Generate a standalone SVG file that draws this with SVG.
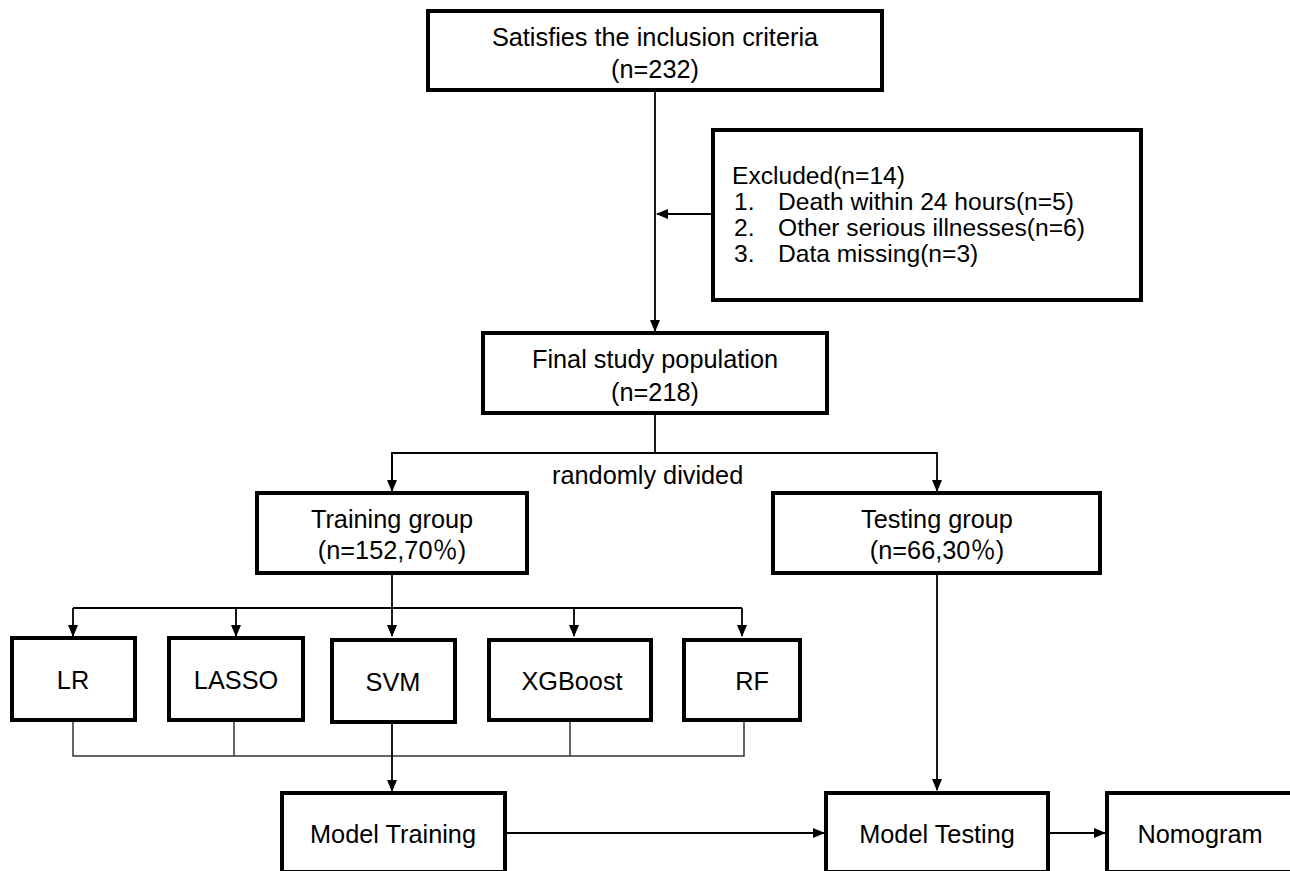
<svg xmlns="http://www.w3.org/2000/svg" width="1290" height="871" viewBox="0 0 1290 871">
<style>
.box{fill:#fff;stroke:#000;stroke-width:4}
.t{font-family:"Liberation Sans","Noto Sans CJK SC",sans-serif;font-size:25.3px;fill:#000}
.ex{font-size:24.6px}
.c{text-anchor:middle}
.ln{fill:none;stroke:#000;stroke-width:1.8}
.thin{fill:none;stroke:#333;stroke-width:1.5}
</style>
<defs>
<marker id="ah" markerWidth="12" markerHeight="12" refX="11" refY="6" orient="auto" markerUnits="userSpaceOnUse" viewBox="0 0 12 12">
<path d="M0,1 L12,6 L0,11 Z" fill="#000"/>
</marker>
</defs>
<rect width="1290" height="871" fill="#fff"/>
<g id="connectors">
<line class="ln" x1="655" y1="90" x2="655" y2="331" marker-end="url(#ah)"/>
<line class="ln" x1="713" y1="214" x2="657" y2="214" marker-end="url(#ah)"/>
<polyline class="ln" points="655,413 655,453"/>
<polyline class="ln" points="392,491 392,453 937,453 937,491" marker-end="url(#ah)"/>
<line class="ln" x1="392" y1="453" x2="392" y2="491" marker-end="url(#ah)"/>
<line class="ln" x1="392" y1="573" x2="392" y2="636" marker-end="url(#ah)"/>
<line class="ln" x1="73" y1="608" x2="742" y2="608"/>
<line class="ln" x1="73" y1="608" x2="73" y2="636" marker-end="url(#ah)"/>
<line class="ln" x1="236" y1="608" x2="236" y2="636" marker-end="url(#ah)"/>
<line class="ln" x1="574" y1="608" x2="574" y2="636" marker-end="url(#ah)"/>
<line class="ln" x1="742" y1="608" x2="742" y2="636" marker-end="url(#ah)"/>
<polyline class="thin" points="73,720 73,756 744,756 744,720"/>
<line class="thin" x1="234" y1="720" x2="234" y2="756"/>
<line class="thin" x1="570" y1="720" x2="570" y2="756"/>
<line class="ln" x1="392" y1="722" x2="392" y2="791" marker-end="url(#ah)"/>
<line class="ln" x1="937" y1="573" x2="937" y2="790" marker-end="url(#ah)"/>
<line class="ln" x1="505" y1="833" x2="824" y2="833" marker-end="url(#ah)"/>
<line class="ln" x1="1048" y1="833" x2="1105" y2="833" marker-end="url(#ah)"/>
</g>
<g id="inclusion">
<rect class="box" x="428" y="11" width="454" height="79"/>
<text class="t c" x="655" y="46">Satisfies the inclusion criteria</text>
<text class="t c" x="655" y="78">(n=232)</text>
</g>
<g id="excluded">
<rect class="box" x="713" y="130" width="428" height="170"/>
<text class="t ex" x="732" y="184">Excluded(n=14)</text>
<text class="t ex" x="734" y="210">1.</text><text class="t ex" x="778" y="210">Death within 24 hours(n=5)</text>
<text class="t ex" x="734" y="236">2.</text><text class="t ex" x="778" y="236">Other serious illnesses(n=6)</text>
<text class="t ex" x="734" y="262">3.</text><text class="t ex" x="778" y="262">Data missing(n=3)</text>
</g>
<g id="final">
<rect class="box" x="483" y="333" width="344" height="80"/>
<text class="t c" x="655" y="368">Final study population</text>
<text class="t c" x="655" y="401">(n=218)</text>
</g>
<g id="divided-label">
<text class="t" x="552" y="484">randomly divided</text>
</g>
<g id="training">
<rect class="box" x="257" y="493" width="270" height="80"/>
<text class="t c" x="392" y="528">Training group</text>
<text class="t c" x="392" y="559">(n=152,70％)</text>
</g>
<g id="testing">
<rect class="box" x="773" y="493" width="327" height="80"/>
<text class="t c" x="937" y="528">Testing group</text>
<text class="t c" x="937" y="559">(n=66,30％)</text>
</g>
<g id="lr">
<rect class="box" x="12" y="638" width="123" height="82"/>
<text class="t c" x="73" y="689">LR</text>
</g>
<g id="lasso">
<rect class="box" x="169" y="638" width="134" height="82"/>
<text class="t c" x="236" y="689">LASSO</text>
</g>
<g id="svm">
<rect class="box" x="332" y="640" width="123" height="82"/>
<text class="t c" x="393" y="691">SVM</text>
</g>
<g id="xgboost">
<rect class="box" x="489" y="640" width="162" height="80"/>
<text class="t c" x="572" y="690">XGBoost</text>
</g>
<g id="rf">
<rect class="box" x="684" y="640" width="116" height="80"/>
<text class="t c" x="752" y="690">RF</text>
</g>
<g id="model-training">
<rect class="box" x="282" y="793" width="223" height="79"/>
<text class="t c" x="393" y="843">Model Training</text>
</g>
<g id="model-testing">
<rect class="box" x="826" y="793" width="222" height="79"/>
<text class="t c" x="937" y="843">Model Testing</text>
</g>
<g id="nomogram">
<rect class="box" x="1107" y="793" width="200" height="79"/>
<text class="t c" x="1200" y="843">Nomogram</text>
</g>
</svg>
